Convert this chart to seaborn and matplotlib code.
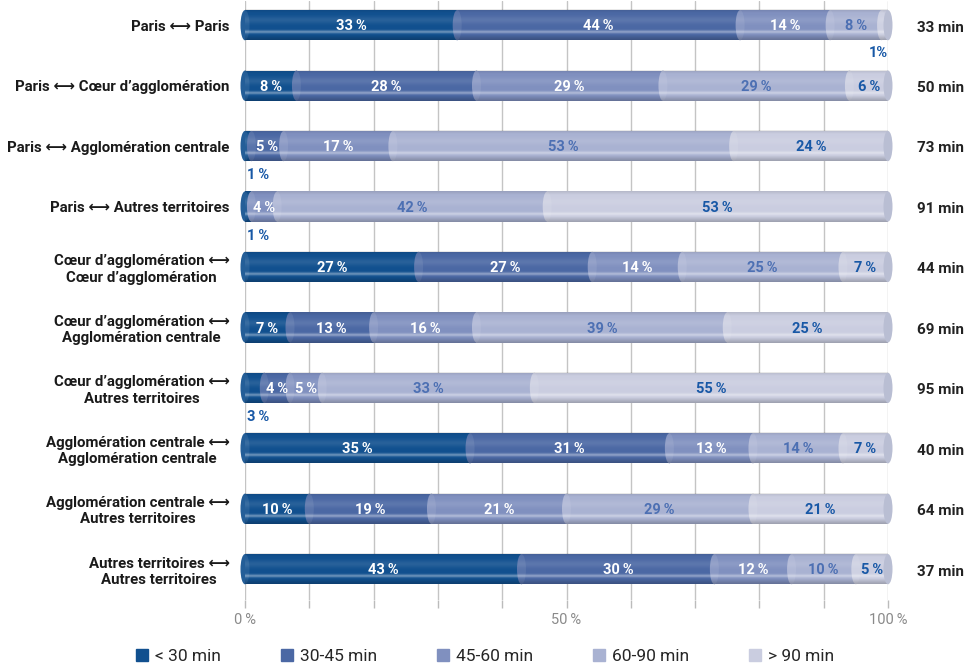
import numpy as np
import pandas as pd
import matplotlib
matplotlib.use("Agg")
import matplotlib.pyplot as plt
import seaborn as sns
from matplotlib.patches import Ellipse
from matplotlib.lines import Line2D
from matplotlib.colors import to_rgb

# Trajets domicile-travail : répartition par durée (%) et durée moyenne
routes = [
    "Paris \u27f7 Paris",
    "Paris \u27f7 Cœur d’agglomération",
    "Paris \u27f7 Agglomération centrale",
    "Paris \u27f7 Autres territoires",
    "Cœur d’agglomération \u27f7\nCœur d’agglomération",
    "Cœur d’agglomération \u27f7\nAgglomération centrale",
    "Cœur d’agglomération \u27f7\nAutres territoires",
    "Agglomération centrale \u27f7\nAgglomération centrale",
    "Agglomération centrale \u27f7\nAutres territoires",
    "Autres territoires \u27f7\nAutres territoires",
]
bands = ["< 30 min", "30-45 min", "45-60 min", "60-90 min", "> 90 min"]
under_30 = [33, 8, 1, 1, 27, 7, 3, 35, 10, 43]
from_30_to_45 = [44, 28, 5, 0, 27, 13, 4, 31, 19, 30]
from_45_to_60 = [14, 29, 17, 4, 14, 16, 5, 13, 21, 12]
from_60_to_90 = [8, 29, 53, 42, 25, 39, 33, 14, 29, 10]
over_90 = [1, 6, 24, 53, 7, 25, 55, 7, 21, 5]
mean_minutes = [33, 50, 73, 91, 44, 69, 95, 40, 64, 37]

band_colors = ["#11508f", "#4b68a4", "#8090bf", "#a9b2d2", "#cacde0"]
label_colors = ["white", "white", "white", "#4d70b3", "#1858a6"]
cap_end_color = "#b9bed3"

shares = pd.DataFrame(
    {"route": routes, bands[0]: under_30, bands[1]: from_30_to_45,
     bands[2]: from_45_to_60, bands[3]: from_60_to_90, bands[4]: over_90}
)
cum = shares[bands].cumsum(axis=1)
cum.insert(0, "route", routes)

sns.set_theme(style="white")
plt.rcParams["font.family"] = ["Roboto", "DejaVu Sans"]

fig = plt.figure(figsize=(9.68, 6.66), dpi=100)
ax = fig.add_axes([245 / 968, 66 / 666, 643 / 968, 599 / 666])

BAR_H = 0.5
# stacked bars: cumulative totals drawn from the longest to the shortest
for band, col in zip(bands[::-1], band_colors[::-1]):
    sns.barplot(data=cum, x=band, y="route", orient="h", color=col,
                saturation=1, width=BAR_H, linewidth=0, ax=ax, zorder=2)


def lighten(c, f):
    r, g, b = to_rgb(c)
    return (r + (1 - r) * f, g + (1 - g) * f, b + (1 - b) * f)


CAP_W = 1.4
n = len(routes)
# cylinder shading overlay
t = np.linspace(0, 1, 64)
white_a = 0.38 * np.exp(-((t - 0.74) / 0.05) ** 2) + 0.10 * np.exp(-((t - 0.35) / 0.12) ** 2)
dark_a = 0.22 * np.clip((t - 0.82) / 0.18, 0, 1) + 0.10 * np.clip((0.12 - t) / 0.12, 0, 1)
shade = np.zeros((64, 1, 4))
rgb = np.where((white_a > dark_a)[:, None], 1.0, 0.0)
shade[:, 0, :3] = rgb
shade[:, 0, 3] = np.maximum(white_a, dark_a)

for i in range(n):
    start = 0.0
    for k, band in enumerate(bands):
        v = shares.loc[i, band]
        if v <= 0:
            continue
        ax.add_patch(Ellipse((start, i), CAP_W, BAR_H, facecolor=lighten(band_colors[k], 0.08),
                             edgecolor="none", zorder=3, clip_on=False))
        start += v
    ax.imshow(shade, extent=(0, 100, i + BAR_H / 2, i - BAR_H / 2), aspect="auto",
              zorder=4, interpolation="bilinear")
    ax.add_patch(Ellipse((100, i), CAP_W, BAR_H, facecolor=cap_end_color,
                         edgecolor="none", zorder=5, clip_on=False))

# value labels
for i in range(n):
    start = 0.0
    last_k = max(k for k, b in enumerate(bands) if shares.loc[i, b] > 0)
    for k, band in enumerate(bands):
        v = shares.loc[i, band]
        if v <= 0:
            continue
        if v >= 4:
            ax.text(start + v / 2, i + 0.02, f"{v}\u2009%", ha="center", va="center",
                    fontsize=10.5, fontweight="bold", color=label_colors[k], zorder=6)
        elif k == last_k:
            ax.text(100, i + 0.46, f"{v}%", ha="right", va="center",
                    fontsize=10.5, fontweight="bold", color="#1858a6", zorder=6)
        else:
            ax.text(0.3, i + 0.48, f"{v}\u2009%", ha="left", va="center",
                    fontsize=10.5, fontweight="bold", color="#1858a6", zorder=6)
        start += v
    ax.text(104.5, i + 0.04, f"{mean_minutes[i]} min", ha="left", va="center",
            fontsize=11, fontweight="bold", color="#222222", clip_on=False)

ax.set_xlim(0, 100)
ax.set_ylim(9.51, -0.4)
ax.set_xticks(range(0, 101, 10))
ax.set_xticklabels(["0\u2009%" if x == 0 else "50\u2009%" if x == 50 else "100\u2009%" if x == 100 else ""
                    for x in range(0, 101, 10)])
ax.xaxis.grid(True, color="#c4c4c4", linewidth=1.0, zorder=0)
ax.set_axisbelow(True)
ax.tick_params(axis="x", length=6, color="#bbbbbb", width=1, labelsize=10.5,
               labelcolor="#8a8a8a", pad=3, bottom=True)
ax.tick_params(axis="y", length=0, pad=11, labelsize=10.8)
for lab in ax.get_yticklabels():
    lab.set_fontweight("bold")
    lab.set_multialignment("center")
    lab.set_color("#1a1a1a")
ax.set_xlabel("")
ax.set_ylabel("")
for s in ax.spines.values():
    s.set_visible(False)

handles = [Line2D([], [], marker="s", linestyle="none", markersize=8,
                  markerfacecolor=c, markeredgecolor=c) for c in band_colors]
fig.legend(handles, bands, loc="lower center", bbox_to_anchor=(0.5, -0.02), ncol=5,
           frameon=False, fontsize=12.5, handletextpad=0.25, columnspacing=3.3,
           handlelength=1.0)

fig.savefig("out.png", dpi=100)
